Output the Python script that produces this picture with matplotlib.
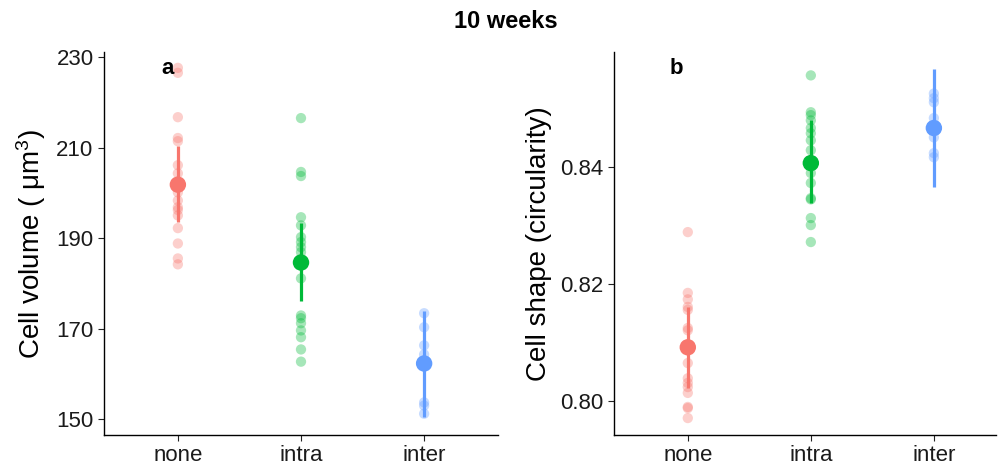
import numpy as np
import matplotlib; matplotlib.use("Agg")
import matplotlib.pyplot as plt

plt.rcParams["font.family"] = ["Liberation Sans", "DejaVu Sans"]
plt.rcParams["mathtext.fontset"] = "custom"
plt.rcParams["mathtext.rm"] = "Liberation Sans"
plt.rcParams["mathtext.it"] = "Liberation Sans:italic"

groups = ["none", "intra", "inter"]
colors = ["#F8766D", "#00BA38", "#619CFF"]

# panel a: cell volume (um^3)
vol_none = [227.6, 226.5, 216.7, 212.1, 211.4, 206.1, 204.3, 200.1, 198.3, 196.8, 196.2,
            195.0, 192.2, 188.8, 185.5, 184.2]
vol_intra = [216.5, 204.6, 203.7, 194.6, 192.8, 190.2, 189.1, 188.0, 186.9, 181.1, 172.9,
             172.3, 171.2, 169.6, 168.1, 165.4, 162.7]
vol_inter = [173.4, 170.3, 166.3, 164.3, 153.7, 153.0, 151.2]
vol_mean = [201.8, 184.6, 162.3]
vol_lo = [193.5, 176.2, 150.4]
vol_hi = [210.3, 193.3, 174.0]

# panel b: cell shape (circularity)
circ_none = [0.8289, 0.8185, 0.8174, 0.8161, 0.8156, 0.8125, 0.8121, 0.8065, 0.8039,
             0.8031, 0.8024, 0.8014, 0.7990, 0.7988, 0.7971]
circ_intra = [0.8557, 0.8494, 0.8489, 0.8480, 0.8467, 0.8458, 0.8446, 0.8429, 0.8390,
              0.8373, 0.8347, 0.8345, 0.8313, 0.8301, 0.8272]
circ_inter = [0.8526, 0.8518, 0.8511, 0.8484, 0.8451, 0.8424, 0.8417]
circ_mean = [0.8092, 0.8407, 0.8467]
circ_lo = [0.8022, 0.8338, 0.8366]
circ_hi = [0.8161, 0.8480, 0.8568]

fig = plt.figure(figsize=(9.99, 4.68), dpi=100)
axa = fig.add_axes([0.1041, 0.0705, 0.3944, 0.8184])
axb = fig.add_axes([0.6146, 0.0705, 0.3824, 0.8184])


def panel(ax, raw, mean, lo, hi):
    for i, (vals, c) in enumerate(zip(raw, colors)):
        ax.scatter(np.full(len(vals), i + 1), vals, s=55, color=c, alpha=0.35,
                   edgecolors="none", zorder=2)
        ax.vlines(i + 1, lo[i], hi[i], color=c, lw=2.3, zorder=3)
        ax.scatter([i + 1], [mean[i]], s=140, color=c, edgecolors="none", zorder=4)
    ax.set_xticks([1, 2, 3])
    ax.set_xticklabels(groups)
    for s in ["top", "right"]:
        ax.spines[s].set_visible(False)
    for s in ["left", "bottom"]:
        ax.spines[s].set_linewidth(1.0)
    ax.tick_params(labelsize=16, length=4, width=0.8, colors="#222222", labelcolor="#1a1a1a")


panel(axa, [vol_none, vol_intra, vol_inter], vol_mean, vol_lo, vol_hi)
axa.set_xlim(0.4, 3.6)
axa.set_ylim(146.5, 231.1)
axa.set_yticks([150, 170, 190, 210, 230])
axa.set_ylabel("Cell volume ( μm$^{3}$)", fontsize=20, labelpad=6)
axa.text(0.145, 0.985, "a", transform=axa.transAxes, fontsize=16, fontweight="bold", va="top")

panel(axb, [circ_none, circ_intra, circ_inter], circ_mean, circ_lo, circ_hi)
axb.set_xlim(0.4, 3.505)
axb.set_ylim(0.7942, 0.8597)
axb.set_yticks([0.80, 0.82, 0.84])
axb.set_yticklabels(["0.80", "0.82", "0.84"])
axb.set_ylabel("Cell shape (circularity)", fontsize=20, labelpad=6)
axb.text(0.145, 0.985, "b", transform=axb.transAxes, fontsize=16, fontweight="bold", va="top")

fig.text(0.506, 0.953, "10 weeks", ha="center", va="center", fontsize=17, fontweight="bold")
fig.savefig("out.png", dpi=100)
